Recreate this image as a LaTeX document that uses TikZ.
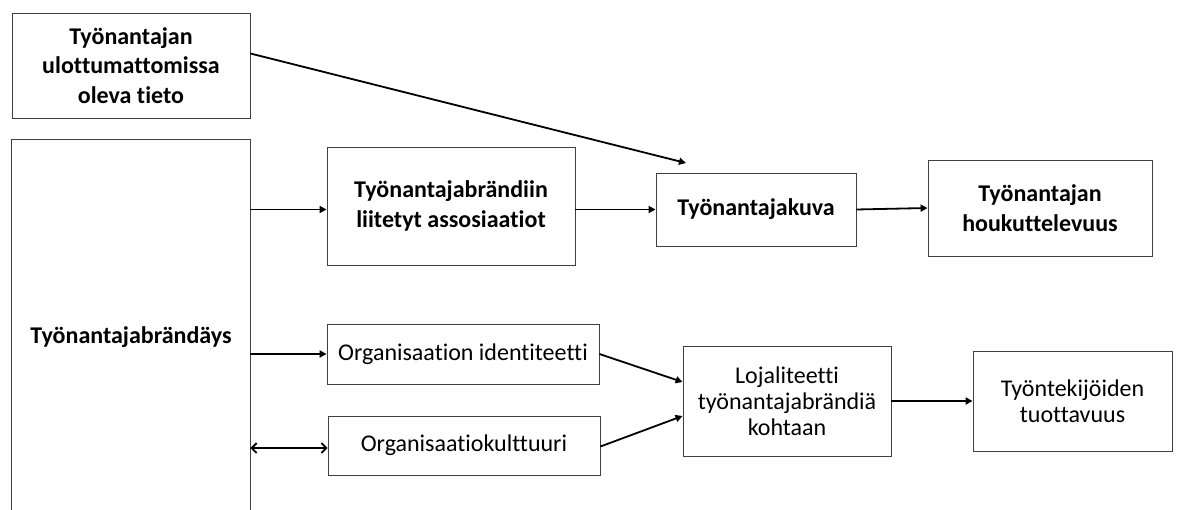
\documentclass[tikz,border=0pt]{standalone}
\usepackage{fontspec}
\setmainfont{Carlito}[Ligatures=NoCommon]
\usetikzlibrary{arrows.meta}
\begin{document}
\begin{tikzpicture}[x=1pt,y=-1pt,
  box/.style={draw=black!75, line width=0.9pt, align=center, inner sep=0pt},
  bbox/.style={box, font=\fontsize{24}{29.5}\selectfont\bfseries},
  rbox/.style={box, font=\fontsize{24}{26}\selectfont},
  arr/.style={line width=1.8pt, -{Triangle[length=7pt,width=7pt]}},
  darr/.style={line width=1.8pt, {Straight Barb[length=5pt,width=10pt]}-{Straight Barb[length=5pt,width=10pt]}}]
\useasboundingbox (0,0) rectangle (1204,510);
\coordinate (bot) at (0,510);
\node[bbox, minimum width=238pt, minimum height=105pt] (A) at (131,65.5) {Työnantajan\\ulottumattomissa\\oleva tieto};
\node[bbox, draw=none, minimum width=238pt, minimum height=394pt] (brand) at (131,337) {Työnantajabrändäys};
\draw[black!75, line width=0.9pt] (brand.west |- bot) |- (brand.north) -| (brand.east |- bot);
\node[bbox, minimum width=248pt, minimum height=118pt] (B) at (451,206) {Työnantajabrändiin\\liitetyt assosiaatiot};
\node[bbox, minimum width=200pt, minimum height=73pt] (C) at (756,209.5) {Työnantajakuva};
\node[bbox, minimum width=224pt, minimum height=96pt] (D) at (1040,208) {Työnantajan\\houkuttelevuus};
\node[rbox, minimum width=272pt, minimum height=60pt] (E) at (463,354) {Organisaation identiteetti};
\node[rbox, minimum width=272pt, minimum height=59pt] (F) at (464,445.5) {Organisaatiokulttuuri};
\node[rbox, minimum width=208pt, minimum height=110pt] (G) at (787,401) {Lojaliteetti\\työnantajabrändiä\\kohtaan};
\node[rbox, minimum width=199pt, minimum height=100pt] (H) at (1072.5,401) {Työntekijöiden\\tuottavuus};
\coordinate (Cin) at (686,163);
\draw[arr] ([yshift=12pt]A.east) -- (Cin);
\draw[arr] (brand.east |- C.west) -- (B.west |- C.west);
\draw[arr] (B.east |- C.west) -- (C.west);
\draw[arr] (C.east) -- (D.west);
\draw[arr] (brand.east |- E.west) -- (E.west);
\draw[darr] (brand.east |- 0,448) -- (F.west |- 0,448);
\draw[arr] (E.east) -- ([yshift=19pt]G.west);
\draw[arr] ([yshift=-1pt]F.east) -- ([yshift=-15pt]G.west);
\draw[arr] (G.east) -- (H.west);
\end{tikzpicture}
\end{document}
